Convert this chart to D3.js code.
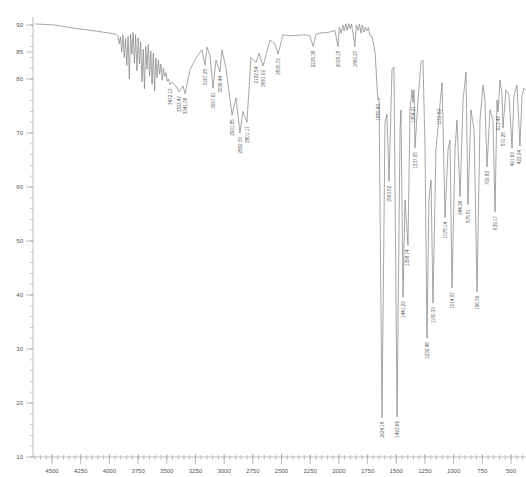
<!DOCTYPE html>
<html><head><meta charset="utf-8">
<script src="https://cdn.jsdelivr.net/npm/d3@7/dist/d3.min.js"></script>
<style>html,body{margin:0;padding:0;background:#fff;}svg{display:block;}</style>
</head><body>
<svg id="chart" width="526" height="477"></svg>
<script>
// Spectrum (wavenumber, cm-1) and transmittance (%T)
const wavenumbers = [4648,4474,4300,4125,3995,3934,
 3925,3914,3903,3892,3881,3870,3859,3848,3837,3826,3815,3804,3793,3782,3771,3760,3749,3738,3727,3716,3705,3694,3683,3672,3661,3650,3639,3628,3617,3606,3595,3584,3573,3562,3551,3540,3529,3518,3507,3496,3485,
 3472,3454,3419,3393,3358,3341,3297,3245,3193,3167,3149,3123,3097,3071,3036,3019,2984,2931,2897,2862,2836,2801,2766,2722,2696,2661,2600,2557,2530,2487,2426,2295,2252,2225,2199,2164,2077,2034,
 2008,1995,1981,1965,1955,1940,1929,1915,1903,1890,1860,1848,1833,1820,1807,1795,1781,1768,1755,1742,1729,1711,1685,1676,1667,1659,1650,
 1624,1598,1581,1563,1537,1520,1493,1467,1459,1441,1424,1398,1380,1363,1354,1345,1337,1310,1284,1267,1249,1232,1215,1197,1180,1154,1119,1101,1093,1075,1049,1032,1014,988,971,944,918,892,875,849,822,796,770,744,727,709,683,657,639,622,613,596,578,570,544,517,491,474,448,422,404,387,369];
const transmittance = [90.2,90.0,89.4,88.9,88.5,88.2,
 88.0,86.5,87.8,85.0,88.2,84.0,87.5,82.5,87.9,80.0,88.3,84.6,88.6,83.0,88.2,81.5,87.6,82.8,86.9,79.5,85.5,78.2,86.0,81.8,86.4,80.6,85.2,79.0,84.8,77.8,83.9,80.3,83.5,80.9,82.8,79.8,82.0,80.4,81.2,79.6,80.0,
 79.0,79.4,78.7,77.6,78.7,77.3,81.7,83.9,85.4,82.6,85.9,84.4,78.3,83.5,81.3,85.4,82.0,73.3,76.5,70.0,74.0,72.0,84.0,83.0,84.8,82.4,87.2,86.5,84.6,88.2,88.0,88.2,88.0,86.0,88.3,88.5,88.7,89.0,
 86.0,89.6,88.5,90.0,88.9,90.2,89.0,90.3,89.3,90.2,86.0,90.0,89.0,90.2,88.5,90.0,88.7,89.6,88.9,89.5,88.0,87.8,85.0,82.0,78.0,76.1,76.5,
 17.3,72.0,73.5,61.0,81.7,82.2,17.4,70.6,74.3,39.6,57.6,49.2,74.3,78.0,75.7,78.0,67.2,76.1,83.2,83.5,66.9,32.0,57.6,61.3,38.5,66.9,75.2,79.3,72.4,54.3,66.9,68.7,41.3,66.9,72.4,58.2,76.1,81.3,56.7,74.3,70.6,40.6,72.4,78.9,76.1,63.7,74.3,72.4,55.4,76.1,73.9,79.8,77.0,70.9,78.0,77.0,67.2,77.0,78.9,67.6,77.0,78.3,77.9];
// Labelled absorption peaks (cm-1)
const peakLabels = [3472.12,3393.47,3341.08,3167.25,3097.61,3036.44,2931.85,2862.30,2801.17,2722.54,2661.09,2530.72,2225.38,2008.15,1860.27,1659.43,1624.18,1563.52,1493.66,1441.29,1398.74,1354.21,1337.05,1232.48,1180.33,1119.62,1075.14,1014.87,944.26,875.51,796.39,709.82,639.17,613.45,570.28,491.63,422.94];
const xTicks = [4500,4250,4000,3750,3500,3250,3000,2750,2500,2250,2000,1750,1500,1250,1000,750,500];
const yTicks = [10,20,30,40,50,60,70,80,85,90];

const svg = d3.select("#chart");
const x = d3.scaleLinear().domain([4500,500]).range([52,511]);
const y = d3.scaleLinear().domain([10,90]).range([457,25]);
const axisColor = "#a0a0a0", textColor = "#555", font = "Liberation Sans, Arial, sans-serif";

// Y axis
const yAxis = svg.append("g").attr("transform","translate(33,0)");
yAxis.append("line").attr("x1",0).attr("x2",0).attr("y1",y(91.5)).attr("y2",y(10)).attr("stroke",axisColor).attr("stroke-width",0.7);
yAxis.selectAll(".ymin").data(d3.range(10,92,2)).join("line")
  .attr("x1",-3).attr("x2",0).attr("y1",d=>y(d)).attr("y2",d=>y(d)).attr("stroke",axisColor).attr("stroke-width",0.6);
yAxis.selectAll(".ymaj").data(yTicks).join("line")
  .attr("x1",-7).attr("x2",0).attr("y1",d=>y(d)).attr("y2",d=>y(d)).attr("stroke",axisColor).attr("stroke-width",0.7);
yAxis.selectAll("text").data(yTicks).join("text")
  .attr("x",-10).attr("y",d=>y(d)).attr("dy","0.35em").attr("text-anchor","end")
  .attr("font-family",font).attr("font-size",6).attr("fill",textColor).text(d=>d);

// X axis
const xAxis = svg.append("g").attr("transform","translate(0,457)");
xAxis.append("line").attr("x1",33).attr("x2",526).attr("y1",0).attr("y2",0).attr("stroke",axisColor).attr("stroke-width",0.7);
xAxis.selectAll(".xmin").data(d3.range(4650,350,-50)).join("line")
  .attr("x1",d=>x(d)).attr("x2",d=>x(d)).attr("y1",-2).attr("y2",3).attr("stroke",axisColor).attr("stroke-width",0.6);
xAxis.selectAll(".xmaj").data(xTicks).join("line")
  .attr("x1",d=>x(d)).attr("x2",d=>x(d)).attr("y1",-3).attr("y2",7).attr("stroke",axisColor).attr("stroke-width",0.7);
xAxis.selectAll("text").data(xTicks).join("text")
  .attr("x",d=>x(d)).attr("y",16).attr("text-anchor","middle")
  .attr("font-family",font).attr("font-size",6).attr("fill",textColor).text(d=>d);

// Spectrum
const pts = wavenumbers.map((w,i)=>({w, t: transmittance[i]}));
svg.append("path").datum(pts)
  .attr("fill","none").attr("stroke","#808080").attr("stroke-width",0.7).attr("stroke-linejoin","round")
  .attr("d", d3.line().x(d=>x(d.w)).y(d=>y(d.t)));

// Peak labels
const nearest = w => pts.reduce((a,b)=>Math.abs(b.w-w)<Math.abs(a.w-w)?b:a);
svg.append("g").selectAll("text").data(peakLabels).join("text")
  .attr("transform", d => { const p = nearest(d); return `translate(${x(d)+1.6},${y(p.t)+4}) rotate(-90)`; })
  .attr("text-anchor","end").attr("font-family",font).attr("font-size",4.6).attr("fill","#5a5a5a")
  .text(d=>d.toFixed(2));
</script>
</body></html>
